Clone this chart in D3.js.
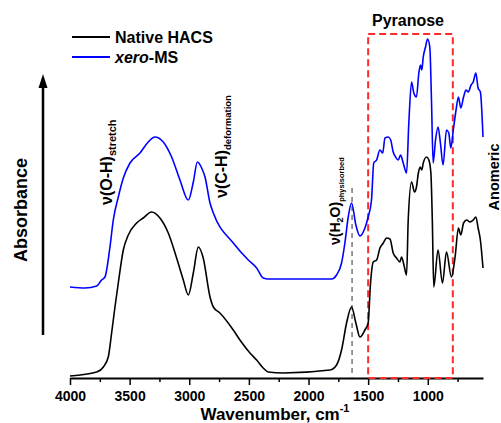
<!DOCTYPE html>
<html lang="en">
<head>
<meta charset="UTF-8">
<title>FTIR spectra</title>
<script src="https://cdn.jsdelivr.net/npm/d3@7"></script>
<style>
  body { margin: 0; background: #fff; }
  text { font-family: Arial, "Liberation Sans", sans-serif; font-weight: bold; }
</style>
</head>
<body>
<svg width="501" height="423"></svg>
<script>
// wavenumber (cm-1), absorbance (a.u., offset spectra)
var nativeHACS = [
  [4000,0.02],[3776,0.06],[3720,0.11],[3679,0.21],[3651,0.45],[3623,0.71],[3595,0.95],
  [3553,1.28],[3511,1.43],[3441,1.55],[3386,1.60],[3316,1.66],[3246,1.60],[3176,1.45],
  [3106,1.20],[3050,0.98],[3008,0.83],[2966,1.05],[2924,1.31],[2883,1.20],[2826,0.81],
  [2798,0.71],[2743,0.65],[2631,0.48],[2575,0.38],[2491,0.25],[2435,0.18],[2380,0.10],
  [2338,0.06],[2212,0.05],[1820,0.08],[1765,0.13],[1723,0.28],[1681,0.55],[1639,0.71],
  [1603,0.55],[1569,0.41],[1527,0.48],[1500,0.55],[1480,0.95],[1457,1.16],[1429,1.18],
  [1401,1.30],[1373,1.35],[1345,1.40],[1317,1.39],[1290,1.25],[1262,1.20],[1234,1.16],
  [1220,1.21],[1200,1.13],[1178,1.03],[1164,1.58],[1136,1.96],[1111,1.86],[1095,1.91],
  [1079,2.05],[1064,2.11],[1050,2.08],[1038,2.15],[1010,2.21],[991,2.18],[974,2.05],
  [962,1.58],[950,0.91],[914,1.28],[877,0.95],[843,1.26],[802,1.01],[771,1.21],
  [743,1.50],[723,1.43],[700,1.55],[673,1.58],[646,1.56],[619,1.58],[597,1.61],
  [578,1.50],[559,1.38],[537,1.10]
];
var xeroMS = [
  [4000,0.91],[3874,0.90],[3776,0.92],[3735,0.98],[3707,1.01],[3665,1.31],[3637,1.58],
  [3595,1.81],[3553,2.00],[3497,2.15],[3413,2.25],[3344,2.36],[3288,2.41],[3218,2.36],
  [3148,2.21],[3078,1.98],[3008,1.78],[2966,1.96],[2932,2.16],[2896,2.10],[2868,2.01],
  [2826,1.75],[2798,1.65],[2631,1.35],[2505,1.18],[2435,1.10],[2380,1.00],[2338,0.99],
  [1806,0.99],[1765,1.03],[1723,1.15],[1695,1.35],[1667,1.61],[1639,1.75],[1603,1.53],
  [1569,1.42],[1527,1.50],[1500,1.61],[1472,1.78],[1453,2.15],[1429,2.18],[1401,2.28],
  [1378,2.25],[1359,2.40],[1331,2.41],[1311,2.38],[1290,2.26],[1270,2.21],[1248,2.18],
  [1228,2.23],[1206,2.15],[1178,2.05],[1159,2.55],[1136,2.96],[1117,2.85],[1095,2.81],
  [1075,3.05],[1061,3.13],[1050,3.08],[1038,3.21],[1019,3.31],[1002,3.39],[983,3.31],
  [969,2.78],[955,2.15],[935,2.38],[914,2.51],[894,2.35],[872,2.13],[843,2.48],
  [824,2.45],[807,2.30],[786,2.48],[763,2.68],[743,2.81],[723,2.70],[700,2.81],
  [680,2.88],[661,2.86],[637,2.93],[619,2.96],[597,3.05],[578,2.90],[559,2.86],
  [537,2.41]
];
var majorTicks = [4000, 3500, 3000, 2500, 2000, 1500, 1000];
var minorTicks = [3750, 3250, 2750, 2250, 1750, 1250, 750];
var seriesNames = ['Native HACS', 'xero-MS'];
var pyranoseRange = [1500, 790];
var waterBand = 1635;

var svg = d3.select('svg');

// x: wavenumber reversed, y: absorbance
var x = d3.scaleLinear().domain([4000, 537]).range([70, 483]);
var y = d3.scaleLinear().domain([0, 3.4]).range([378, 38]);

// x axis
var gx = svg.append('g').attr('transform', 'translate(0,378)')
  .call(d3.axisBottom(x).tickValues(majorTicks).tickFormat(d3.format('d'))
    .tickSize(7).tickSizeOuter(0).tickPadding(6));
gx.select('.domain').attr('stroke-width', 2);
gx.selectAll('.tick line').attr('stroke-width', 1.5);
gx.selectAll('.tick text').attr('font-size', 14).attr('font-weight', 'bold')
  .attr('font-family', 'Arial, "Liberation Sans", sans-serif').attr('fill', '#000');

var gm = svg.append('g').attr('transform', 'translate(0,378)')
  .call(d3.axisBottom(x).tickValues(minorTicks).tickSize(4).tickSizeOuter(0).tickFormat(''));
gm.select('.domain').remove();
gm.selectAll('.tick line').attr('stroke-width', 1.5);

// pyranose box
svg.append('rect')
  .attr('x', x(pyranoseRange[0])).attr('y', y(3.44))
  .attr('width', x(pyranoseRange[1]) - x(pyranoseRange[0]))
  .attr('height', y(0) - y(3.44))
  .attr('fill', 'none').attr('stroke', '#ff2a2a').attr('stroke-width', 2)
  .attr('stroke-dasharray', '7,4');

// water band marker
svg.append('line')
  .attr('x1', x(waterBand)).attr('x2', x(waterBand))
  .attr('y1', y(1.9)).attr('y2', y(0))
  .attr('stroke', '#555').attr('stroke-width', 1.2).attr('stroke-dasharray', '5,4');

// spectra (ascending x order for monotone interpolation)
var line = d3.line()
  .x(function(d) { return x(d[0]); })
  .y(function(d) { return y(d[1]); })
  .curve(d3.curveMonotoneX);

function asc(data) { return data.slice().sort(function(a, b) { return x(a[0]) - x(b[0]); }); }

svg.append('path').datum(asc(nativeHACS)).attr('d', line)
  .attr('fill', 'none').attr('stroke', '#000').attr('stroke-width', 1.6);
svg.append('path').datum(asc(xeroMS)).attr('d', line)
  .attr('fill', 'none').attr('stroke', '#0000ff').attr('stroke-width', 1.6);

// legend
var legend = svg.append('g');
[['#000', 43], ['#0000ff', 63]].forEach(function(l) {
  legend.append('line').attr('x1', 72).attr('x2', 110).attr('y1', l[1] - 6).attr('y2', l[1] - 6)
    .attr('stroke', l[0]).attr('stroke-width', 1.8);
});
legend.append('text').attr('x', 115).attr('y', 43).attr('font-size', 16).text(seriesNames[0]);
var t2 = legend.append('text').attr('x', 115).attr('y', 63).attr('font-size', 16);
t2.append('tspan').attr('font-style', 'italic').text('xero');
t2.append('tspan').text('-MS');

// axis titles
svg.append('text').attr('transform', 'translate(27,210) rotate(-90)')
  .attr('text-anchor', 'middle').attr('font-size', 18).text('Absorbance');
var xt = svg.append('text').attr('x', 275).attr('y', 420)
  .attr('text-anchor', 'middle').attr('font-size', 17);
xt.append('tspan').text('Wavenumber, cm');
xt.append('tspan').attr('font-size', 11).attr('dy', -8).text('-1');

// y arrow
svg.append('line').attr('x1', 43).attr('x2', 43).attr('y1', 335).attr('y2', 86)
  .attr('stroke', '#000').attr('stroke-width', 2.5);
svg.append('path').attr('d', 'M38.5,88 L43,74 L47.5,88 Z').attr('fill', '#000');

// band annotations
function band(px, py, main, sub, fs, sfs) {
  var t = svg.append('text').attr('transform', 'translate(' + px + ',' + py + ') rotate(-90)')
    .attr('font-size', fs);
  main.forEach(function(m) {
    var s = t.append('tspan').text(m[0]);
    if (m[1]) s.attr('font-size', m[1]).attr('dy', m[2]);
  });
  t.append('tspan').attr('font-size', sfs).attr('dy', 4).text(sub);
}
band(112, 205, [['ν(O-H)']], 'stretch', 16, 11);
band(227, 198, [['ν(C-H)']], 'deformation', 16, 9.5);
band(340, 245, [['ν(H'], ['2', 9, 3], ['O)', 14, -3]], 'physisorbed', 14, 7.5);

svg.append('text').attr('x', 408).attr('y', 26).attr('text-anchor', 'middle')
  .attr('font-size', 16).text('Pyranose');
svg.append('text').attr('transform', 'translate(499,177) rotate(-90)')
  .attr('text-anchor', 'middle').attr('font-size', 14.5).text('Anomeric');
</script>
</body>
</html>
